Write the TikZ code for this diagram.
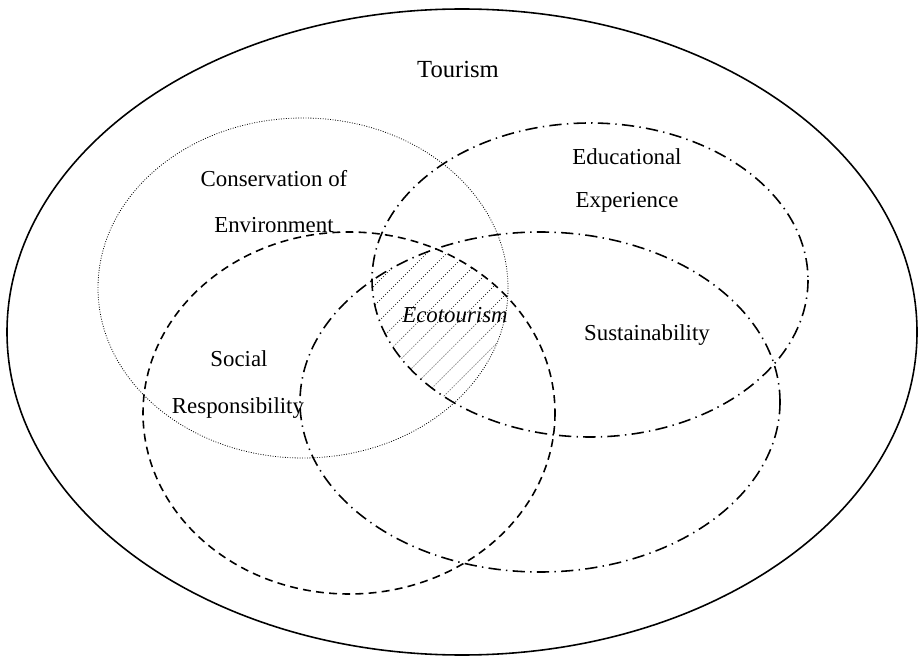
\documentclass[tikz,border=0pt]{standalone}
\usepackage{fontspec}
\setmainfont{Liberation Serif}

\begin{document}
\begin{tikzpicture}[x=0.2mm, y=-0.2mm,
	lbl/.style={font=\fontsize{13}{15}\selectfont, anchor=base, inner sep=0pt},
	dotline/.style={line width=.45pt, dash pattern=on .5pt off .9pt},
	dashline/.style={line width=.9pt, dash pattern=on 4.5pt off 3pt},
	dashdotline/.style={line width=.9pt, dash pattern=on 7pt off 3pt on .8pt off 3pt},
	hatch/.style={line width=.35pt, dash pattern=on .6pt off 1pt}]
\useasboundingbox (0,0) rectangle (924,661);

% hatched core (intersection of the four sets)
\begin{scope}
	\clip (303,288) ellipse [x radius=205, y radius=170];
	\clip (590,280) ellipse [x radius=218, y radius=157];
	\clip (349,413) ellipse [x radius=206, y radius=181];
	\clip (540,402) ellipse [x radius=240, y radius=170];
	\foreach \k in {190,210,...,510}
		\draw[hatch] (\k,430) -- ++(230,-230);
\end{scope}

% draw outer set
\draw[line width=.9pt] (462,332) ellipse [x radius=455, y radius=323];

% draw inner sets
\draw[dotline] (303,288) ellipse [x radius=205, y radius=170];
\draw[dashdotline] (590,280) ellipse [x radius=218, y radius=157];
\draw[dashline] (349,413) ellipse [x radius=206, y radius=181];
\draw[dashdotline] (540,402) ellipse [x radius=240, y radius=170];

% draw labels
\node[lbl, font=\fontsize{14}{16}\selectfont] (tourism) at (458,78) {Tourism};
\node[lbl] (conserv) at (274,187) {Conservation of};
\node[lbl] (environ) at (274,233) {Environment};
\node[lbl] (educ) at (627,165) {Educational};
\node[lbl] (exper) at (627,208) {Experience};
\node[lbl] (eco) at (455,322) {\textit{Ecotourism}};
\node[lbl] (sustain) at (647,341) {Sustainability};
\node[lbl] (social) at (239,367) {Social};
\node[lbl] (respons) at (238,413) {Responsibility};
\end{tikzpicture}
\end{document}
